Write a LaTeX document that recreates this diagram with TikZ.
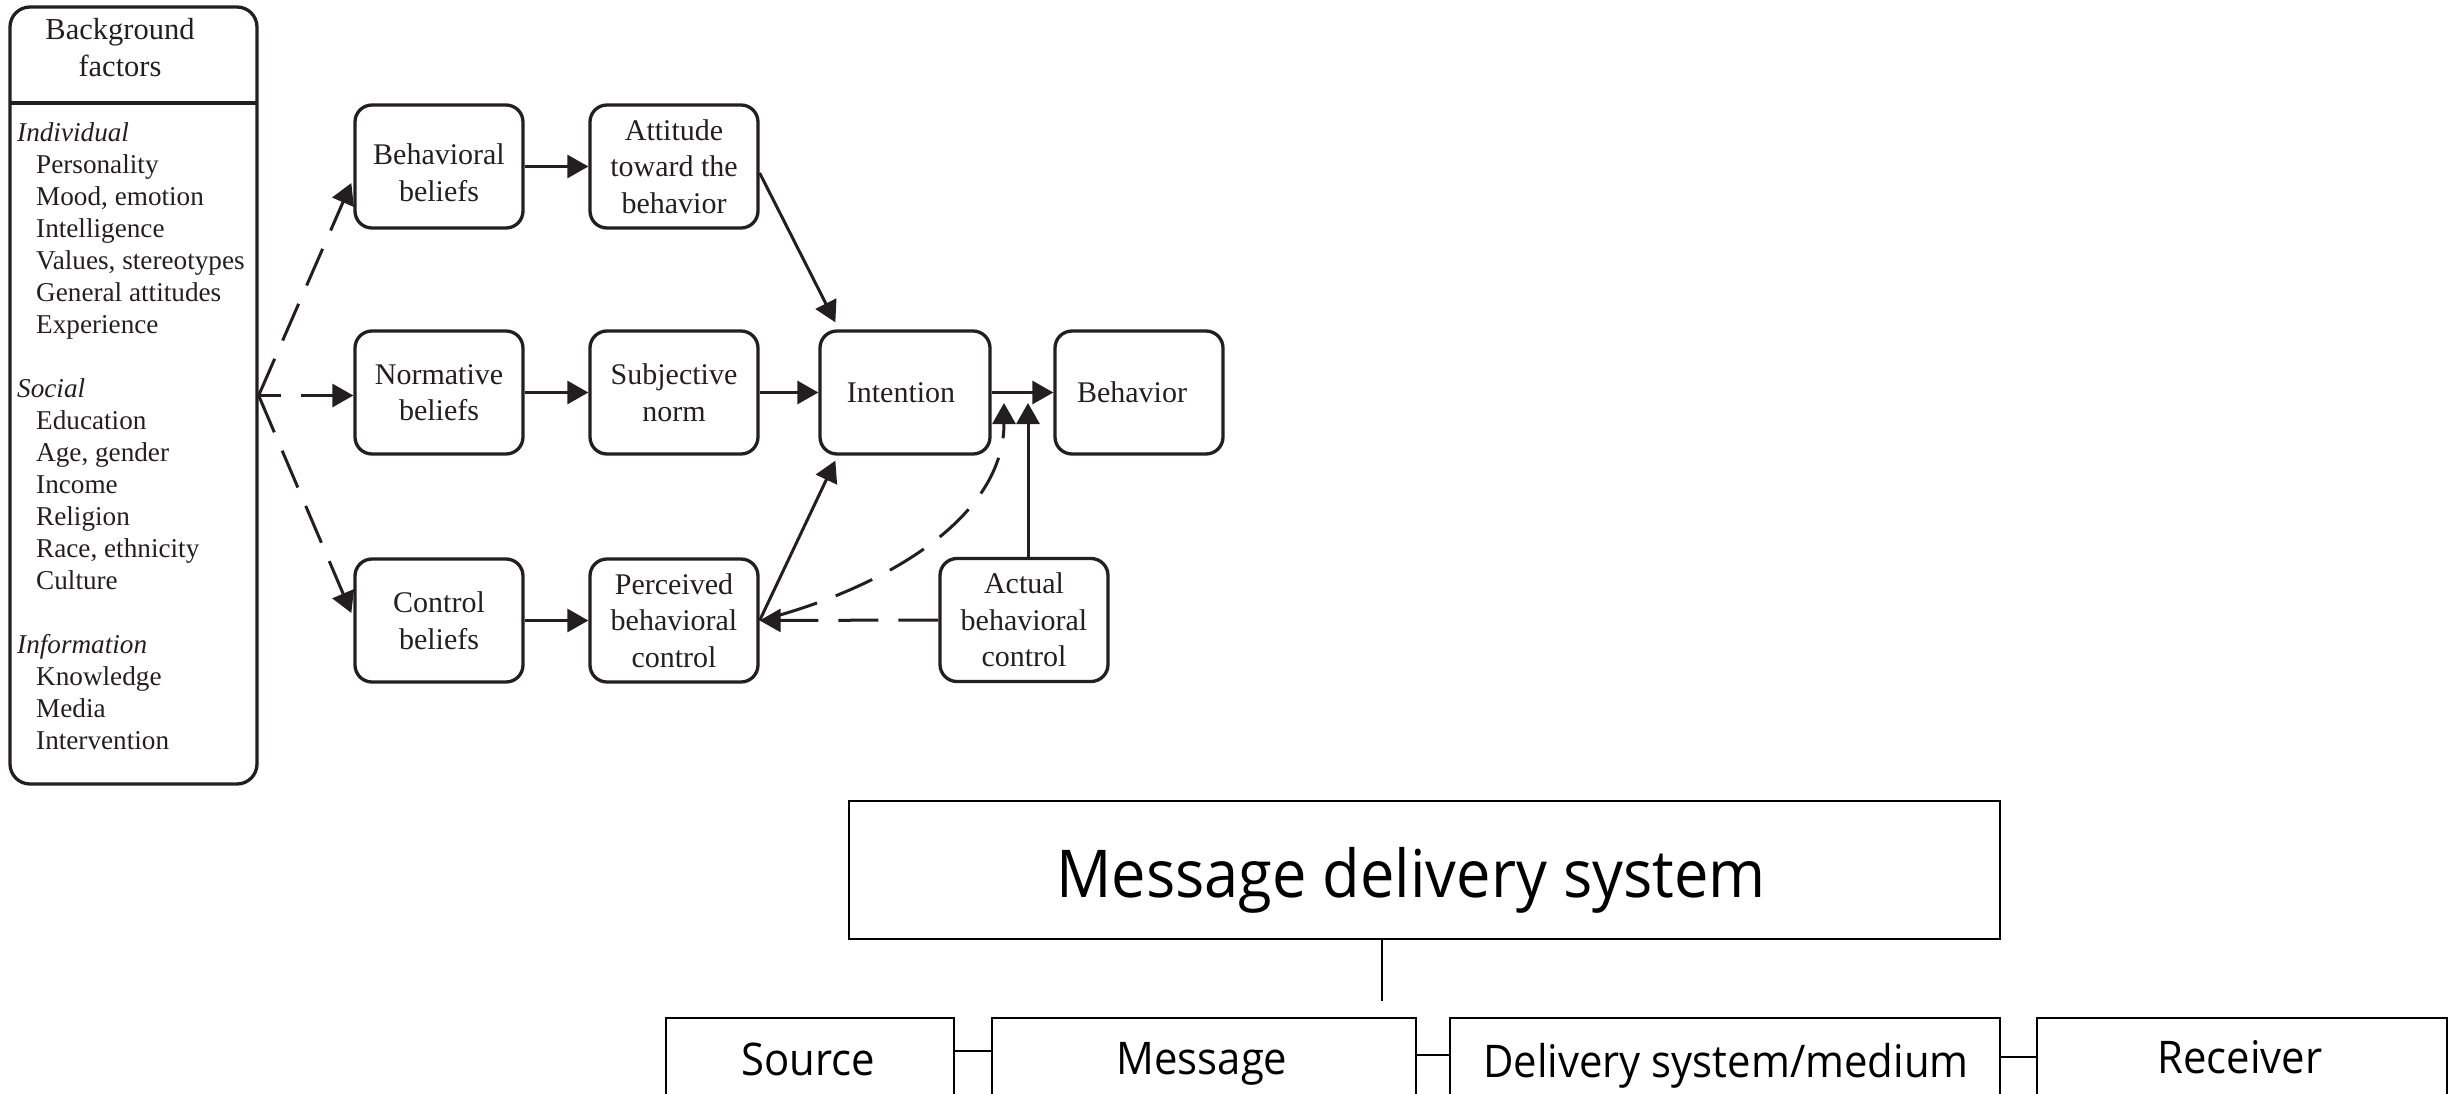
\documentclass[tikz,border=0pt]{standalone}
\usepackage{fontspec}
\setmainfont{Liberation Serif}
\newfontfamily\uifont[FakeStretch=0.93]{Open Sans}
\usetikzlibrary{arrows.meta,calc}
\definecolor{ink}{HTML}{231F20}
\newcommand{\tpfont}{\fontsize{30}{36.5}\selectfont}
\newcommand{\lowr}[1]{\raisebox{-6pt}[\height][\depth]{#1}}
\begin{document}
\begin{tikzpicture}[x=1pt,y=-1pt,
  tpbox/.style={draw=ink, line width=3.3pt, rounded corners=17pt, minimum width=168pt, minimum height=123pt, align=center, font=\tpfont, text=ink, inner sep=0pt},
  arr/.style={draw=ink, line width=3pt, -{Triangle[length=21pt,width=23pt]}},
  darr/.style={arr, dash pattern=on 40pt off 20pt},
  bbox/.style={draw=black, line width=2pt, inner sep=0pt, minimum height=140pt},
  btext/.style={anchor=base, inner sep=0pt, font=\uifont\fontsize{45}{54}\selectfont},
  bline/.style={draw=black, line width=1.6pt}
]
\useasboundingbox (0,0) rectangle (2450,1094);
\clip (0,0) rectangle (2450,1094);

% Background factors
\node[draw=ink, line width=3.3pt, rounded corners=20pt, minimum width=247pt, minimum height=777pt, inner sep=0pt] (bf) at (133.5,395.5) {};
\coordinate (dl) at (10,103);
\coordinate (dr) at (257,103);
\draw[draw=ink, line width=3.3pt] (dl) -- (dr);
\node[anchor=base, inner sep=0pt, text=ink] (bfh) at (120,40) {\parbox[t]{200pt}{\centering\fontsize{30.5}{37}\selectfont Background\\factors}};
\node[anchor=base west, inner sep=0pt, text=ink] (bfl) at (17,142) {\parbox[t]{238pt}{\raggedright\fontsize{27.2}{31.95}\selectfont
\textit{Individual}\\
\hspace*{19pt}Personality\\
\hspace*{19pt}Mood, emotion\\
\hspace*{19pt}Intelligence\\
\hspace*{19pt}Values, stereotypes\\
\hspace*{19pt}General attitudes\\
\hspace*{19pt}Experience\\[31.95pt]
\textit{Social}\\
\hspace*{19pt}Education\\
\hspace*{19pt}Age, gender\\
\hspace*{19pt}Income\\
\hspace*{19pt}Religion\\
\hspace*{19pt}Race, ethnicity\\
\hspace*{19pt}Culture\\[31.95pt]
\textit{Information}\\
\hspace*{19pt}Knowledge\\
\hspace*{19pt}Media\\
\hspace*{19pt}Intervention}};

% model boxes
\node[tpbox] (bb) at (439,166.5) {\lowr{Behavioral}\\\lowr{beliefs}};
\node[tpbox] (att) at (674,166.5) {Attitude\\toward the\\behavior};
\node[tpbox] (nb) at (439,392.5) {Normative\\beliefs};
\node[tpbox] (sn) at (674,392.5) {Subjective\\norm};
\node[tpbox] (cb) at (439,620.5) {Control\\beliefs};
\node[tpbox] (pbc) at (674,620.5) {Perceived\\behavioral\\control};
\node[tpbox, minimum width=170pt] (int) at (905,392.5) {Intention\hspace*{8pt}};
\node[tpbox] (beh) at (1139,392.5) {Behavior\hspace*{14pt}};
\node[tpbox] (abc) at (1024,620) {Actual\\behavioral\\control};

% dashed arrows from background factors
\draw[darr] (bf.east) -- ($(bb.west)+(-2,16.5)$);
\draw[darr, dash pattern=on 22pt off 20pt on 40pt off 20pt] (bf.east) -- (bf.east -| nb.west);
\draw[darr] (bf.east) -- ($(cb.west)+(-2,-7.5)$);

% solid arrows
\draw[arr] (bb.east) -- (att.west);
\draw[arr] (nb.east) -- (sn.west);
\draw[arr] (cb.east) -- (pbc.west);
\draw[arr] (sn.east) -- (int.west);
\draw[arr] (int.east) -- (beh.west);
\draw[arr] ($(att.east)+(0,6.5)$) -- ($(int.north west)+(17,-7)$);
\draw[arr] (pbc.east) -- ($(int.south west)+(17,5)$);

% actual behavioral control
\coordinate (m1) at (1004,403);
\coordinate (m2) at (1028,403);
\draw[arr] (m2 |- abc.north) -- (m2);
\draw[darr] (abc.west) -- (pbc.east);
\draw[darr, dash phase=40pt] (pbc.east) .. controls (880,590) and (1004,520) .. (m1);

% bottom: message delivery system
\node[draw=black, line width=2pt, minimum width=1151pt, minimum height=138pt, inner sep=0pt] (mds) at (1424.5,870) {};
\node[anchor=base, inner sep=0pt, font=\uifont\fontsize{66}{80}\selectfont] (mdst) at (1411,897) {Message delivery system};
\node[bbox, minimum width=288pt] (src) at (810,1088) {};
\node[bbox, minimum width=424pt] (msg) at (1204,1088) {};
\node[bbox, minimum width=550pt] (del) at (1725,1088) {};
\node[bbox, minimum width=410pt] (rec) at (2242,1088) {};
\node[btext] (srct) at (808,1075) {Source};
\node[btext] (msgt) at (1202,1074) {Message};
\node[btext] (delt) at (1726,1077) {Delivery system/medium};
\node[btext] (rect) at (2240,1073) {Receiver};
\coordinate (vend) at (1382,1001);
\draw[bline] ([xshift=-42.5pt]mds.south) -- (vend);
\draw[bline] ([yshift=37pt]src.east) -- ([yshift=37pt]msg.west);
\draw[bline] ([yshift=33pt]msg.east) -- ([yshift=33pt]del.west);
\draw[bline] ([yshift=31pt]del.east) -- ([yshift=31pt]rec.west);
\end{tikzpicture}
\end{document}
